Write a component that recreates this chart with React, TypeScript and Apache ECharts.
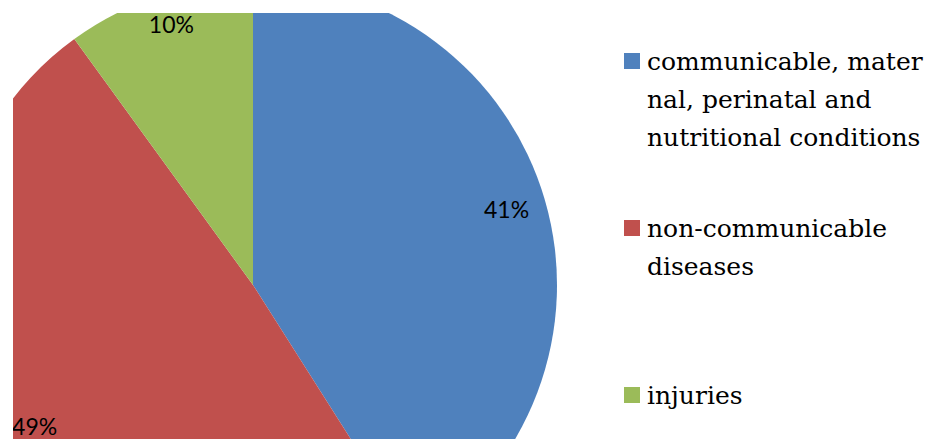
import React, { useEffect, useRef } from "react";
import * as echarts from "echarts";

const categories = [
  "communicable, maternal, perinatal and nutritional conditions",
  "non-communicable diseases",
  "injuries",
];
const values = [41, 49, 10];
const legendLines = [
  ["communicable, mater", "nal, perinatal and", "nutritional conditions"],
  ["non-communicable", "diseases"],
  ["injuries"],
];
const colors = ["#4F81BD", "#C0504D", "#9BBB59"];

export default function App() {
  const ref = useRef<HTMLDivElement>(null);
  useEffect(() => {
    if (!ref.current) return;
    const chart = echarts.init(ref.current, null, { renderer: "svg" });
    const data = categories.map((name, i) => ({
      name,
      value: values[i],
      itemStyle: { color: colors[i] },
    }));
    const legendX = 611;
    const legendY0 = 40;
    const legendStep = 167;
    const graphic: any[] = [];
    categories.forEach((_, i) => {
      const y = legendY0 + legendStep * i;
      graphic.push({
        type: "rect",
        left: legendX,
        top: y,
        shape: { width: 16, height: 16 },
        style: { fill: colors[i] },
      });
      graphic.push({
        type: "text",
        x: legendX + 23,
        y: y - 11,
        style: {
          text: legendLines[i].join("\n"),
          fontFamily: "DejaVu Serif",
          fontSize: 25,
          lineHeight: 38,
          fill: "#000",
          verticalAlign: "top",
          align: "left",
        },
      });
    });
    const labelShift = [-2, -7, -10];
    chart.setOption({
      animation: false,
      backgroundColor: "#fff",
      graphic,
      series: [
        {
          type: "pie",
          center: [240, 272],
          radius: [0, 304],
          startAngle: 90,
          clockwise: true,
          silent: true,
          label: { show: false },
          labelLine: { show: false },
          data,
        },
        {
          type: "pie",
          center: [240, 272],
          radius: [218, 304],
          startAngle: 90,
          clockwise: true,
          silent: true,
          itemStyle: { color: "transparent" },
          label: {
            show: true,
            position: "inside",
            formatter: (p: any) => `${p.value}%`,
            fontFamily: "Lato",
            fontSize: 23,
            lineHeight: 20,
            color: "#000",
          },
          labelLine: { show: false },
          labelLayout: (p: any) => ({ dy: labelShift[p.dataIndex] }),
          data: categories.map((name, i) => ({
            name,
            value: values[i],
            itemStyle: { color: "transparent" },
          })),
        },
      ],
    });
    return () => chart.dispose();
  }, []);
  return (
    <div
      style={{
        position: "fixed",
        left: 0,
        top: 0,
        width: 929,
        height: 439,
        background: "#fff",
      }}
    >
      <div
        ref={ref}
        style={{ position: "absolute", left: 13, top: 13, width: 916, height: 426 }}
      />
    </div>
  );
}
